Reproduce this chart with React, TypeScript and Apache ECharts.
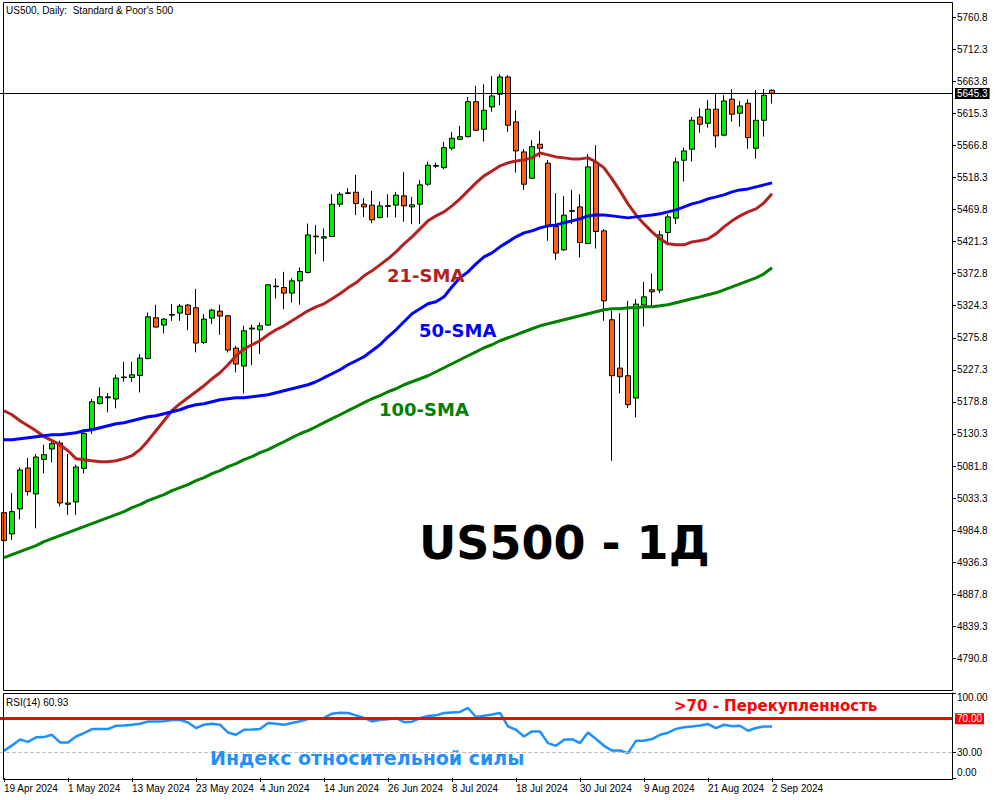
import React, { useEffect, useRef } from "react";
import * as echarts from "echarts";

const opens = [
  5011.4, 4979.2, 5017.0, 5078.9, 5039.6, 5091.9, 5107.6, 5116.7, 5024.0, 5027.5,
  5078.3, 5137.8, 5176.5, 5185.0, 5183.2, 5215.5, 5215.8, 5218.8, 5244.5, 5306.0,
  5295.0, 5310.0, 5313.1, 5325.2, 5321.1, 5268.7, 5305.5, 5316.1, 5309.0, 5260.2,
  5233.0, 5289.0, 5287.9, 5295.0, 5353.0, 5351.8, 5343.3, 5361.9, 5374.5, 5428.5,
  5426.5, 5428.9, 5477.8, 5494.0, 5495.9, 5477.8, 5476.3, 5457.6, 5474.5, 5476.3,
  5490.4, 5473.7, 5477.8, 5508.0, 5535.2, 5533.1, 5562.4, 5576.0, 5579.9, 5632.8,
  5591.1, 5624.8, 5644.0, 5670.2, 5602.2, 5556.8, 5517.1, 5568.5, 5539.8, 5444.0,
  5408.8, 5467.0, 5473.7, 5418.3, 5540.7, 5437.5, 5303.0, 5230.0, 5218.4, 5184.7,
  5325.2, 5348.3, 5347.9, 5434.9, 5456.7, 5544.3, 5560.9, 5609.7, 5600.2, 5621.4,
  5582.1, 5636.5, 5615.3, 5630.4, 5562.4, 5604.7, 5650.1,
];
const highs = [
  5021.9, 5041.1, 5079.8, 5094.0, 5100.1, 5114.1, 5120.2, 5120.2, 5100.1, 5083.9,
  5137.8, 5183.2, 5200.7, 5192.2, 5219.9, 5239.5, 5239.5, 5251.2, 5314.0, 5325.7,
  5305.5, 5326.7, 5326.7, 5327.0, 5349.8, 5311.6, 5319.6, 5325.7, 5310.5, 5263.7,
  5293.9, 5295.4, 5298.9, 5356.9, 5365.4, 5375.5, 5366.0, 5382.0, 5448.5, 5446.5,
  5441.0, 5492.9, 5496.4, 5502.0, 5522.1, 5486.9, 5497.9, 5481.7, 5492.9, 5496.4,
  5526.6, 5488.8, 5514.1, 5541.7, 5540.7, 5571.9, 5587.1, 5596.1, 5639.9, 5656.6,
  5659.1, 5671.7, 5674.2, 5673.2, 5619.8, 5560.9, 5574.5, 5588.6, 5544.8, 5494.4,
  5490.4, 5499.4, 5492.9, 5553.4, 5567.0, 5440.0, 5316.6, 5313.1, 5331.7, 5334.3,
  5360.4, 5372.9, 5437.5, 5462.7, 5548.2, 5563.3, 5609.7, 5622.9, 5635.4, 5645.5,
  5642.5, 5651.6, 5633.9, 5636.5, 5650.1, 5651.6, 5651.6,
];
const lows = [
  4961.5, 4970.1, 5001.2, 5037.1, 4987.6, 5070.7, 5087.4, 5020.9, 5007.9, 5007.9,
  5070.7, 5130.3, 5174.6, 5162.9, 5169.0, 5209.3, 5209.3, 5193.1, 5243.0, 5291.0,
  5282.3, 5301.5, 5301.5, 5287.4, 5253.6, 5266.3, 5296.5, 5280.3, 5253.6, 5223.4,
  5191.6, 5234.5, 5251.2, 5294.0, 5335.2, 5319.2, 5329.1, 5325.7, 5373.0, 5402.3,
  5391.1, 5428.0, 5473.7, 5492.9, 5461.2, 5458.6, 5449.1, 5456.0, 5457.6, 5457.6,
  5451.1, 5447.6, 5447.6, 5505.5, 5532.2, 5530.7, 5559.4, 5575.0, 5579.0, 5588.6,
  5572.4, 5617.7, 5627.4, 5587.1, 5525.6, 5499.0, 5516.0, 5548.2, 5422.4, 5393.6,
  5407.0, 5447.6, 5397.1, 5417.4, 5410.7, 5301.5, 5090.0, 5191.6, 5169.6, 5155.4,
  5292.9, 5324.1, 5343.3, 5415.9, 5447.6, 5512.0, 5542.2, 5586.0, 5593.6, 5563.3,
  5581.0, 5602.6, 5595.1, 5561.8, 5546.7, 5580.0, 5630.0,
];
const closes = [
  4969.1, 5012.9, 5075.9, 5043.1, 5095.5, 5099.0, 5115.6, 5026.0, 5026.0, 5080.4,
  5131.2, 5179.1, 5186.6, 5186.5, 5214.9, 5216.5, 5219.9, 5245.1, 5307.5, 5292.0,
  5304.0, 5311.0, 5323.7, 5311.0, 5267.8, 5304.0, 5317.6, 5308.6, 5257.2, 5236.0,
  5286.4, 5290.5, 5293.9, 5355.9, 5354.0, 5343.3, 5361.9, 5376.0, 5431.4, 5429.5,
  5428.5, 5477.8, 5492.9, 5495.0, 5478.7, 5473.7, 5454.1, 5475.2, 5475.5, 5491.4,
  5475.2, 5476.8, 5507.0, 5536.7, 5536.2, 5563.3, 5577.5, 5579.9, 5632.8, 5589.6,
  5619.8, 5641.4, 5670.2, 5597.2, 5558.4, 5508.0, 5564.8, 5562.4, 5444.0, 5403.8,
  5461.2, 5468.0, 5419.8, 5534.2, 5436.4, 5331.7, 5218.4, 5216.9, 5174.6, 5326.7,
  5337.7, 5345.3, 5431.4, 5458.6, 5541.7, 5558.4, 5604.7, 5598.7, 5621.4, 5581.0,
  5633.9, 5613.8, 5626.3, 5578.4, 5604.7, 5642.5, 5645.3,
];
const sma21 = [
  5165.5, 5159.4, 5150.4, 5142.8, 5135.3, 5126.2, 5120.2, 5114.1, 5105.0, 5093.0,
  5091.5, 5089.9, 5088.4, 5088.4, 5089.9, 5093.0, 5097.5, 5106.6, 5120.2, 5135.3,
  5150.4, 5165.5, 5176.1, 5185.1, 5194.2, 5203.3, 5213.8, 5222.9, 5235.0, 5248.6,
  5259.2, 5265.2, 5271.3, 5280.3, 5287.9, 5293.9, 5301.5, 5309.0, 5316.6, 5322.6,
  5327.2, 5334.7, 5342.3, 5351.3, 5358.9, 5369.5, 5377.0, 5386.1, 5395.2, 5405.7,
  5417.8, 5428.4, 5440.5, 5452.6, 5460.1, 5466.2, 5475.2, 5485.8, 5497.9, 5510.0,
  5520.6, 5528.1, 5535.7, 5540.2, 5543.2, 5544.8, 5547.8, 5555.3, 5552.3, 5549.3,
  5547.8, 5546.3, 5546.3, 5547.8, 5541.7, 5532.7, 5516.0, 5497.9, 5478.3, 5461.6,
  5448.0, 5436.0, 5425.4, 5417.8, 5416.3, 5416.3, 5420.8, 5422.4, 5425.4, 5432.9,
  5443.5, 5452.6, 5460.1, 5466.2, 5470.7, 5479.8, 5493.4,
];
const sma50 = [
  5121.7, 5121.7, 5123.2, 5124.7, 5126.2, 5127.7, 5129.2, 5129.2, 5130.7, 5132.2,
  5135.3, 5136.8, 5139.8, 5142.8, 5145.8, 5147.4, 5150.4, 5153.4, 5156.4, 5157.9,
  5161.0, 5164.0, 5167.0, 5171.5, 5174.6, 5176.1, 5179.1, 5182.1, 5183.6, 5185.1,
  5185.1, 5186.6, 5188.2, 5189.7, 5192.7, 5195.7, 5198.7, 5201.8, 5204.8, 5209.3,
  5215.4, 5221.4, 5227.4, 5235.0, 5241.0, 5247.1, 5256.1, 5265.2, 5277.3, 5287.9,
  5300.0, 5312.1, 5319.6, 5327.2, 5330.2, 5337.7, 5352.9, 5366.5, 5375.5, 5387.6,
  5398.2, 5404.2, 5413.3, 5420.8, 5428.4, 5434.4, 5437.5, 5442.0, 5445.0, 5446.5,
  5449.6, 5452.6, 5455.6, 5460.1, 5461.6, 5461.6, 5460.1, 5458.6, 5457.1, 5458.6,
  5460.1, 5461.6, 5463.2, 5466.2, 5469.2, 5473.7, 5478.3, 5481.3, 5485.8, 5488.8,
  5491.9, 5496.4, 5499.4, 5500.9, 5504.0, 5507.0, 5510.0,
];
const sma100 = [
  4943.4, 4947.9, 4952.4, 4957.0, 4961.5, 4967.5, 4972.1, 4976.6, 4981.1, 4985.7,
  4990.2, 4994.7, 4999.3, 5003.8, 5008.3, 5012.9, 5018.9, 5023.5, 5029.5, 5034.0,
  5038.6, 5044.6, 5049.1, 5053.7, 5059.7, 5064.3, 5070.3, 5074.8, 5080.9, 5085.4,
  5091.5, 5096.0, 5102.0, 5106.6, 5112.6, 5118.6, 5124.7, 5130.7, 5135.3, 5141.3,
  5147.4, 5153.4, 5159.4, 5165.5, 5171.5, 5177.6, 5183.6, 5188.2, 5194.2, 5198.7,
  5204.8, 5209.3, 5213.8, 5218.4, 5224.4, 5230.5, 5236.5, 5242.6, 5248.6, 5254.6,
  5260.7, 5265.2, 5271.3, 5275.8, 5280.3, 5284.9, 5289.4, 5293.9, 5296.9, 5300.0,
  5303.0, 5306.0, 5309.0, 5312.1, 5315.1, 5318.1, 5319.6, 5319.6, 5321.1, 5321.1,
  5322.6, 5322.6, 5324.1, 5325.7, 5328.7, 5331.7, 5334.7, 5337.7, 5340.8, 5343.8,
  5348.3, 5352.9, 5357.4, 5361.9, 5366.5, 5372.5, 5381.6,
];
const rsi14 = [
  32, 38.5, 45.5, 42.7, 48, 48.3, 51, 42, 42, 49,
  53, 57.8, 57.8, 57.8, 61.7, 62, 62.9, 64, 66.8, 66.8,
  67, 68.5, 68.8, 65.6, 59, 63, 64.1, 62.9, 53.8, 51,
  57, 57.3, 57.8, 64.9, 64, 62.9, 65, 67, 69.7, 70.5,
  70.9, 76, 77, 76.8, 74, 71, 66.8, 68.8, 69.5, 70.9,
  66.1, 66.5, 70.5, 73.2, 74, 76.8, 77.5, 78, 82.7, 72,
  73.5, 75, 76.8, 60.9, 57, 49, 55, 55, 41.2, 38,
  45.1, 45.9, 41.2, 53.8, 46, 38, 32.4, 32.4, 29.3, 43.9,
  43.9, 46, 51, 53.5, 58, 60, 60.9, 62, 63.7, 59,
  62.9, 61, 61.7, 55.8, 59, 60.9, 60.93,
];
const priceTicks = [
  5760.8, 5712.3, 5663.8, 5615.3, 5566.8, 5518.3, 5469.8, 5421.3, 5372.8, 5324.3,
  5275.8, 5227.3, 5178.8, 5130.3, 5081.8, 5033.3, 4984.8, 4936.3, 4887.8, 4839.3, 4790.8,
];
const rsiTicks = [0, 30, 100];
const lastPrice = 5645.3;
const rsiOverbought = 70;
const rsiOversold = 30;
const MONTHS = ["Jan", "Feb", "Mar", "Apr", "May", "Jun", "Jul", "Aug", "Sep", "Oct", "Nov", "Dec"];
const TOTAL_SLOTS = 119;

function buildDates(count: number): string[] {
  const out: string[] = [];
  const d = new Date(Date.UTC(2024, 3, 19));
  while (out.length < count) {
    const wd = d.getUTCDay();
    if (wd !== 0 && wd !== 6) {
      out.push(`${d.getUTCDate()} ${MONTHS[d.getUTCMonth()]} ${d.getUTCFullYear()}`);
    }
    d.setUTCDate(d.getUTCDate() + 1);
  }
  return out;
}

const SMALL = '"Liberation Sans", Arial, sans-serif';
const SMALL_SIZE = 10;
const BOLD = '"DejaVu Sans", "Liberation Sans", sans-serif';

export default function App() {
  const ref = useRef<HTMLDivElement>(null);
  useEffect(() => {
    if (!ref.current) return;
    const chart = echarts.init(ref.current, undefined, { renderer: "svg" });
    const n = opens.length;
    const dates = buildDates(n);
    const cats: string[] = [...dates];
    for (let k = 0; cats.length < TOTAL_SLOTS; k++) cats.push(`pad${k}`);
    const showIdx = (i: number) => i % 8 === 0 && i < n;

    const candles = opens.map((o, i) => [o, closes[i], lows[i], highs[i]]);

    const text = (t: string, x: number, y: number, size: number, color: string, bold: boolean, family: string) => ({
      type: "text",
      x,
      y,
      z: 50,
      style: {
        text: t,
        fill: color,
        fontSize: size,
        fontWeight: bold ? "bold" : "normal",
        fontFamily: family,
        textAlign: "left",
        textVerticalAlign: "middle",
        align: "left",
        verticalAlign: "middle",
      },
    });

    const option: any = {
      animation: false,
      backgroundColor: "#ffffff",
      textStyle: { fontFamily: SMALL },
      grid: [
        { left: -1, right: 48, top: 3, height: 687 },
        { left: -1, right: 48, top: 693, height: 86 },
      ],
      xAxis: [
        {
          type: "category",
          gridIndex: 0,
          data: cats,
          boundaryGap: true,
          axisLine: { show: false },
          axisTick: { show: false },
          axisLabel: { show: false },
          splitLine: { show: false },
        },
        {
          type: "category",
          gridIndex: 1,
          data: cats,
          boundaryGap: true,
          axisLine: { show: false },
          axisTick: {
            show: true,
            alignWithLabel: true,
            interval: (i: number) => showIdx(i),
            length: 4,
            lineStyle: { color: "#000" },
          },
          axisLabel: {
            show: true,
            interval: (i: number) => showIdx(i),
            formatter: (v: string) => (v.startsWith("pad") ? "" : v),
            align: "left",
            margin: 4,
            color: "#000",
            fontSize: SMALL_SIZE,
            fontFamily: SMALL,
          },
          splitLine: { show: false },
        },
      ],
      yAxis: [
        {
          type: "value",
          gridIndex: 0,
          position: "right",
          min: 4743.2,
          max: 5782,
          splitLine: { show: false },
          axisLine: { show: true, lineStyle: { color: "#000", width: 1 } },
          axisTick: { show: true, customValues: priceTicks, length: 4, lineStyle: { color: "#000" } },
          axisLabel: {
            customValues: priceTicks,
            formatter: (v: number) => v.toFixed(1),
            color: "#000",
            fontSize: SMALL_SIZE,
            fontFamily: SMALL,
            margin: 5,
          },
        },
        {
          type: "value",
          gridIndex: 1,
          position: "right",
          min: -1.2,
          max: 100.4,
          splitLine: { show: false },
          axisLine: { show: true, lineStyle: { color: "#000", width: 1 } },
          axisTick: { show: true, customValues: rsiTicks, length: 4, lineStyle: { color: "#000" } },
          axisLabel: {
            customValues: rsiTicks,
            formatter: (v: number) =>
              v === 100 ? `{t|${v.toFixed(2)}}` : v === 0 ? `{b|${v.toFixed(2)}}` : `{m|${v.toFixed(2)}}`,
            color: "#000",
            fontSize: SMALL_SIZE,
            fontFamily: SMALL,
            margin: 5,
            rich: {
              t: { padding: [8, 0, 0, 0], fontSize: SMALL_SIZE, fontFamily: SMALL, color: "#000" },
              b: { padding: [0, 0, 10, 0], fontSize: SMALL_SIZE, fontFamily: SMALL, color: "#000" },
              m: { fontSize: SMALL_SIZE, fontFamily: SMALL, color: "#000" },
            },
          },
        },
      ],
      series: [
        {
          type: "candlestick",
          name: "US500",
          xAxisIndex: 0,
          yAxisIndex: 0,
          data: candles,
          barWidth: 5,
          itemStyle: {
            color: "#00ee00",
            color0: "#ff5f0f",
            borderColor: "#000",
            borderColor0: "#000",
            borderColorDoji: "#000",
            borderWidth: 1,
          },
          markLine: {
            silent: true,
            symbol: ["none", "none"],
            data: [{ yAxis: lastPrice }],
            lineStyle: { color: "#000", width: 1, type: "solid" },
            label: {
              show: true,
              position: "end",
              formatter: lastPrice.toFixed(1),
              backgroundColor: "#000",
              color: "#fff",
              padding: [1, 2, 0, 2],
              fontSize: SMALL_SIZE,
              fontFamily: SMALL,
              distance: 3,
            },
          },
        },
        {
          type: "line",
          name: "21-SMA",
          xAxisIndex: 0,
          yAxisIndex: 0,
          data: sma21,
          showSymbol: false,
          lineStyle: { color: "#b22222", width: 3 },
          itemStyle: { color: "#b22222" },
        },
        {
          type: "line",
          name: "50-SMA",
          xAxisIndex: 0,
          yAxisIndex: 0,
          data: sma50,
          showSymbol: false,
          lineStyle: { color: "#0000ff", width: 3 },
          itemStyle: { color: "#0000ff" },
        },
        {
          type: "line",
          name: "100-SMA",
          xAxisIndex: 0,
          yAxisIndex: 0,
          data: sma100,
          showSymbol: false,
          lineStyle: { color: "#008000", width: 3 },
          itemStyle: { color: "#008000" },
        },
        {
          type: "line",
          name: "RSI(14)",
          xAxisIndex: 1,
          yAxisIndex: 1,
          data: rsi14,
          showSymbol: false,
          lineStyle: { color: "#1e90ff", width: 2.5 },
          itemStyle: { color: "#1e90ff" },
          markLine: {
            silent: true,
            symbol: ["none", "none"],
            data: [
              {
                yAxis: rsiOversold,
                lineStyle: { color: "#c0c0c0", width: 1, type: "dashed" },
                label: { show: false },
              },
              {
                yAxis: rsiOverbought,
                lineStyle: { color: "#ff0000", width: 3, type: "solid" },
                label: {
                  show: true,
                  position: "end",
                  formatter: rsiOverbought.toFixed(2),
                  backgroundColor: "#ff0000",
                  color: "#fff",
                  padding: [1, 2, 0, 2],
                  fontSize: SMALL_SIZE,
                  fontFamily: SMALL,
                  distance: 3,
                },
              },
            ],
          },
        },
      ],
      graphic: [
        {
          type: "rect",
          z: 40,
          shape: { x: 3.5, y: 2.5, width: 949, height: 688 },
          style: { fill: "none", stroke: "#000", lineWidth: 1 },
          silent: true,
        },
        {
          type: "rect",
          z: 40,
          shape: { x: 3.5, y: 693.5, width: 949, height: 86 },
          style: { fill: "none", stroke: "#000", lineWidth: 1 },
          silent: true,
        },
        text("US500, Daily:  Standard & Poor's 500", 6, 10, SMALL_SIZE, "#000", false, SMALL),
        text("RSI(14) 60.93", 6, 702, SMALL_SIZE, "#000", false, SMALL),
        text("21-SMA", 387, 275, 18, "#b22222", true, BOLD),
        text("50-SMA", 419, 330, 18, "#0000ff", true, BOLD),
        text("100-SMA", 379, 409, 18, "#008000", true, BOLD),
        text("US500 - 1Д", 419, 543, 46, "#000", true, BOLD),
        text("Индекс относительной силы", 210, 758, 19, "#1e90ff", true, BOLD),
        text(">70 - Перекупленность", 674, 706, 15, "#ff0000", true, BOLD),
      ],
    };

    chart.setOption(option);
    return () => chart.dispose();
  }, []);

  return (
    <div
      ref={ref}
      style={{ position: "fixed", left: 0, top: 0, width: 1000, height: 800, background: "#fff" }}
    />
  );
}
